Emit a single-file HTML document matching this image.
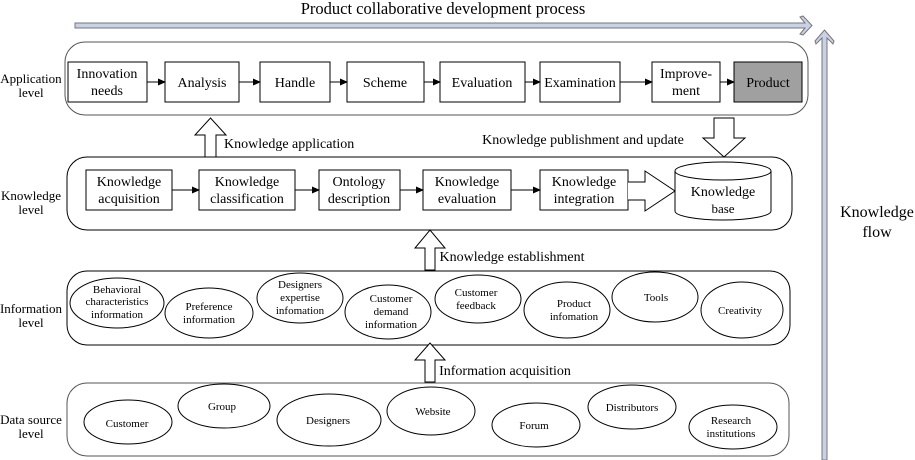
<!DOCTYPE html>
<html><head><style>html,body{margin:0;padding:0;background:#fff}svg{display:block}</style></head><body>
<svg width="915" height="460" viewBox="0 0 915 460" xmlns="http://www.w3.org/2000/svg" font-family="Liberation Serif, serif">
<defs><marker id="a" markerWidth="8" markerHeight="8" refX="7" refY="4" orient="auto" markerUnits="userSpaceOnUse"><path d="M0,0.5 L8,4 L0,7.5z" fill="#000"/></marker></defs>
<rect width="915" height="460" fill="#fff"/>
<text x="443" y="14" font-size="16.5" text-anchor="middle">Product collaborative development process</text>
<path d="M75,23 L805,23 L800,17 L803,16 L812,25.5 L803,35 L800,34 L805,28 L75,28 Z" fill="#c9d1e6" stroke="#777" stroke-width="1"/>
<path d="M822,460 L822,38 L816,44 L815,41 L824.5,30 L834,41 L833,44 L827,38 L827,460 Z" fill="#c9d1e6" stroke="#777" stroke-width="1"/>
<g font-size="16" text-anchor="middle"><text x="877" y="217">Knowledge</text><text x="877" y="237">flow</text></g>
<g font-size="13" text-anchor="middle">
<text x="31" y="83">Application</text><text x="31" y="97">level</text>
<text x="31" y="200">Knowledge</text><text x="31" y="214">level</text>
<text x="31" y="313">Information</text><text x="31" y="327">level</text>
<text x="31" y="424">Data source</text><text x="31" y="438">level</text>
</g>
<g fill="none" stroke="#000" stroke-width="1">
<rect x="65" y="42" width="743" height="73" rx="20" stroke="#555"/>
<rect x="67" y="157" width="725" height="73" rx="20"/>
<rect x="67" y="271" width="723" height="74" rx="20"/>
<rect x="67" y="383" width="722" height="73" rx="20" stroke="#555"/>
</g>
<g stroke="#000" fill="#fff" stroke-width="1">
<rect x="68" y="62" width="79" height="40"/><rect x="165" y="62" width="74" height="40"/><rect x="260" y="62" width="70" height="40"/><rect x="347" y="62" width="77" height="40"/><rect x="440" y="62" width="85" height="40"/><rect x="540" y="62" width="80" height="40"/><rect x="652" y="62" width="68" height="40"/><rect x="734" y="62" width="68" height="40" fill="#a0a0a0"/>
<rect x="86" y="170" width="86" height="40"/><rect x="199" y="170" width="96" height="40"/><rect x="319" y="170" width="81" height="40"/><rect x="423" y="170" width="88" height="40"/><rect x="540" y="170" width="88" height="40"/>
</g>
<g stroke="#000" stroke-width="1" marker-end="url(#a)">
<line x1="147" y1="82" x2="165" y2="82"/><line x1="239" y1="82" x2="260" y2="82"/><line x1="330" y1="82" x2="347" y2="82"/><line x1="424" y1="82" x2="440" y2="82"/><line x1="525" y1="82" x2="540" y2="82"/><line x1="620" y1="82" x2="652" y2="82"/><line x1="720" y1="82" x2="734" y2="82"/>
<line x1="172" y1="190" x2="199" y2="190"/><line x1="295" y1="190" x2="319" y2="190"/><line x1="400" y1="190" x2="423" y2="190"/><line x1="511" y1="190" x2="540" y2="190"/>
</g>
<g font-size="14" text-anchor="middle">
<text x="107" y="78">Innovation</text><text x="107" y="95">needs</text>
<text x="202" y="87">Analysis</text><text x="295" y="87">Handle</text><text x="385" y="87">Scheme</text><text x="482" y="87">Evaluation</text><text x="580" y="87">Examination</text>
<text x="686" y="78">Improve-</text><text x="686" y="95">ment</text><text x="768" y="87">Product</text>
<text x="129" y="186">Knowledge</text><text x="129" y="203">acquisition</text>
<text x="247" y="186">Knowledge</text><text x="247" y="203">classification</text>
<text x="359" y="186">Ontology</text><text x="359" y="203">description</text>
<text x="467" y="186">Knowledge</text><text x="467" y="203">evaluation</text>
<text x="584" y="186">Knowledge</text><text x="584" y="203">integration</text>
<text x="583" y="144">Knowledge publishment and update</text>
<text x="512" y="261">Knowledge establishment</text>
<text x="505" y="375">Information acquisition</text>
</g>
<g fill="#fff" stroke="#000" stroke-width="1">
<path d="M205,157 L205,135 L195,135 L210.5,118 L226,135 L216,135 L216,157 Z"/>
<path d="M714,118 L734,118 L734,138 L745,138 L724,157 L703,138 L714,138 Z"/>
<path d="M425,270 L425,248 L415,248 L430,230 L445,248 L435,248 L435,270 Z"/>
<path d="M425,382 L425,360 L415,360 L430,343 L445,360 L435,360 L435,382 Z"/>
<path d="M628,182 L645,182 L645,171 L675,191 L645,211 L645,200 L628,200"/>
<path d="M675,171 L675,211 A48,9 0 0 0 771,211 L771,171 A48,9 0 0 0 675,171 A48,9 0 0 0 771,171"/>
</g>
<g font-size="14" text-anchor="middle"><text x="723" y="196">Knowledge</text><text x="723" y="213" font-size="13">base</text></g>
<text x="224" y="148" font-size="14">Knowledge application</text>
<g fill="#fff" stroke="#000" stroke-width="1">
<ellipse cx="117" cy="303" rx="47" ry="25"/><ellipse cx="209" cy="313" rx="44" ry="25"/><ellipse cx="300" cy="298" rx="43" ry="25"/><ellipse cx="388" cy="312" rx="43" ry="27"/><ellipse cx="478" cy="299" rx="43" ry="24"/><ellipse cx="567" cy="310" rx="43" ry="28"/><ellipse cx="655" cy="297" rx="43" ry="25"/><ellipse cx="742" cy="310" rx="41" ry="28"/>
<ellipse cx="128" cy="422" rx="44" ry="22"/><ellipse cx="224" cy="406" rx="46" ry="22"/><ellipse cx="329" cy="420" rx="52" ry="26"/><ellipse cx="431" cy="411" rx="44" ry="24"/><ellipse cx="536" cy="425" rx="44" ry="22"/><ellipse cx="632" cy="407" rx="44" ry="22"/><ellipse cx="733" cy="427" rx="44" ry="22"/>
</g>
<g font-size="11" text-anchor="middle">
<text x="117" y="293">Behavioral</text><text x="117" y="305">characteristics</text><text x="117" y="318">information</text>
<text x="209" y="310">Preference</text><text x="209" y="323">information</text>
<text x="300" y="288">Designers</text><text x="300" y="301">expertise</text><text x="300" y="314">infomation</text>
<text x="391" y="302">Customer</text><text x="391" y="315">demand</text><text x="391" y="328">information</text>
<text x="476" y="296">Customer</text><text x="476" y="309">feedback</text>
<text x="574" y="307">Product</text><text x="574" y="320">infomation</text>
<text x="656" y="301">Tools</text><text x="740" y="314">Creativity</text>
<text x="127" y="427">Customer</text><text x="222" y="410">Group</text><text x="328" y="424">Designers</text><text x="433" y="415">Website</text><text x="534" y="429">Forum</text><text x="632" y="411">Distributors</text>
<text x="731" y="424">Research</text><text x="731" y="437">institutions</text>
</g>
</svg>
</body></html>
